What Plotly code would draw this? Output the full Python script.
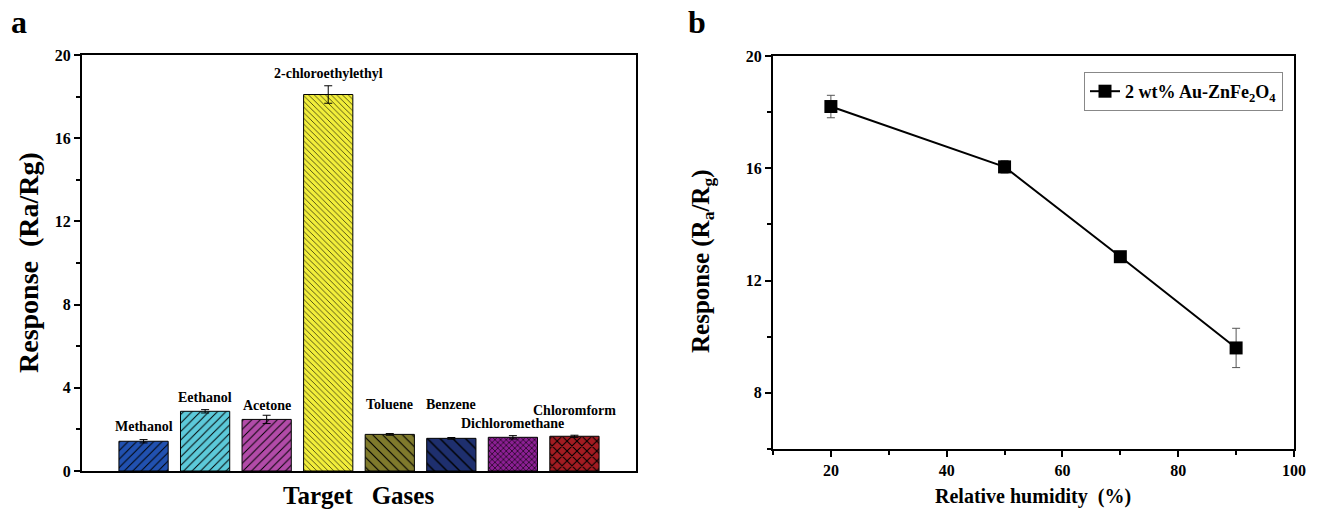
import plotly.graph_objects as go

# ---------------- data: panel a ----------------
gases = ["Methanol", "Eethanol", "Acetone", "2-chloroethylethyl",
         "Toluene", "Benzene", "Dichloromethane", "Chloromform"]
response = [1.43, 2.87, 2.48, 18.1, 1.76, 1.57, 1.62, 1.67]
response_err = [0.08, 0.08, 0.2, 0.42, 0.04, 0.04, 0.08, 0.05]
label_heights = [2.12, 3.51, 3.13, 19.1, 3.22, 3.22, 2.26, 2.93]
bar_colors = ["#2151b0", "#5cc9d9", "#b24ba8", "#f2ee3a",
              "#7f7a2c", "#1e2f6e", "#8c1f94", "#a31c22"]
bar_shapes = ["/", "/", "/", "\\", "\\", "\\", "x", "x"]
pattern_sizes = [6, 6, 6, 4, 7, 9, 4, 7]
a_yticks = [0, 4, 8, 12, 16, 20]

# ---------------- data: panel b ----------------
humidity = [20, 50, 70, 90]
rh_response = [18.2, 16.05, 12.85, 9.6]
rh_err = [0.4, 0.22, 0.1, 0.7]
b_xticks = [20, 40, 60, 80, 100]
b_yticks = [8, 12, 16, 20]

FONT = "Liberation Serif"
W, H = 1320, 511

fig = go.Figure()

for i, g in enumerate(gases):
    fig.add_trace(go.Bar(
        x=[i], y=[response[i]], width=0.8,
        error_y=dict(type="data", array=[response_err[i]], color="black",
                     thickness=1, width=4),
        marker=dict(color=bar_colors[i],
                    line=dict(color="black", width=1),
                    pattern=dict(shape=bar_shapes[i], fillmode="replace",
                                 fgcolor="black", bgcolor=bar_colors[i],
                                 fgopacity=1, size=pattern_sizes[i],
                                 solidity=0.16 if bar_shapes[i] != "x" else 0.28)),
        showlegend=False, xaxis="x", yaxis="y", hoverinfo="skip", name=g))

for i, (g, h) in enumerate(zip(gases, label_heights)):
    fig.add_annotation(x=i, y=h, xref="x", yref="y", text=g, showarrow=False,
                       font=dict(family=FONT, size=14, color="black",
                                 weight="bold"),
                       yanchor="middle")

fig.add_trace(go.Scatter(
    x=humidity, y=rh_response, mode="lines+markers",
    name="2 wt% Au-ZnFe<sub>2</sub>O<sub>4</sub>",
    line=dict(color="black", width=2),
    marker=dict(symbol="square", size=13, color="black"),
    error_y=dict(type="data", array=rh_err, color="#555555",
                 thickness=1, width=4),
    xaxis="x2", yaxis="y2"))

tickfont = dict(family=FONT, size=16, color="black", weight="bold")
common = dict(tickcolor="black", showgrid=False,
              zeroline=False, showline=True, linecolor="black", linewidth=2,
              mirror=True, automargin=False)

fig.update_layout(
    width=W, height=H, barmode="overlay",
    margin=dict(l=0, r=0, t=0, b=0, autoexpand=False),
    paper_bgcolor="white", plot_bgcolor="white",
    font=dict(family=FONT, color="black"),
    xaxis=dict(domain=[82 / W, 636 / W], range=[-1, 8],
               showticklabels=False, ticks="", **common),
    yaxis=dict(domain=[1 - 471 / H, 1 - 55 / H], range=[0, 20],
               tickvals=a_yticks, ticks="outside", ticklen=6, tickwidth=2,
               tickfont=tickfont,
               minor=dict(dtick=2, ticks="outside", ticklen=4, tickwidth=1.5,
                          tickcolor="black"), **common),
    xaxis2=dict(domain=[773 / W, 1294 / W], range=[10, 100], anchor="y2",
                tickvals=b_xticks, ticks="outside", ticklen=6, tickwidth=2,
                tickfont=tickfont,
                minor=dict(dtick=10, ticks="outside", ticklen=4, tickwidth=1.5,
                           tickcolor="black"), **common),
    yaxis2=dict(domain=[1 - 449 / H, 1 - 56 / H], range=[6, 20], anchor="x2",
                tickvals=b_yticks, ticks="outside", ticklen=6, tickwidth=2,
                tickfont=tickfont,
                minor=dict(dtick=2, ticks="outside", ticklen=4, tickwidth=1.5,
                           tickcolor="black"), **common),
    legend=dict(x=1283 / W, y=1 - 72 / H, xanchor="right", yanchor="top",
                bgcolor="white", bordercolor="#888888", borderwidth=1,
                font=dict(family=FONT, size=18, color="black", weight="bold")),
    showlegend=True,
)

def title(text, x, y, size, angle=0):
    fig.add_annotation(x=x / W, y=1 - y / H, xref="paper", yref="paper",
                       text=text, showarrow=False, textangle=angle,
                       xanchor="center", yanchor="middle",
                       font=dict(family=FONT, size=size, weight="bold",
                                 color="black"))

title("Response  (Ra/Rg)", 28, 263, 28, -90)
title("Target   Gases", 358, 495, 25)
title("Response (R<sub>a</sub>/R<sub>g</sub>)", 702, 262, 25, -90)
title("Relative humidity  (%)", 1033, 496, 20)
title("a", 19, 22, 32)
title("b", 697, 22, 32)

fig.write_html("out.html")
